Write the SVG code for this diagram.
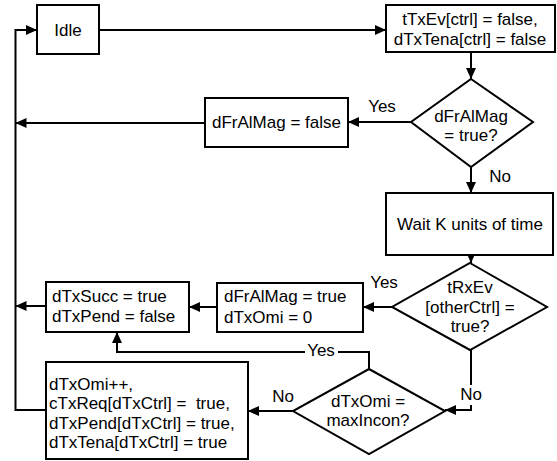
<svg xmlns="http://www.w3.org/2000/svg" width="557" height="461" viewBox="0 0 557 461">
<defs>
<marker id="ah" viewBox="0 0 11 10" refX="11" refY="5" markerWidth="11" markerHeight="10" markerUnits="userSpaceOnUse" orient="auto">
<path d="M0,0 L11,5 L0,10 Z" fill="#000"/>
</marker>
<style>
.box{fill:#fff;stroke:#000;stroke-width:2}
.t{font-family:"Liberation Sans",Arial,sans-serif;font-size:17px;fill:#000;white-space:pre}
.c{text-anchor:middle}
.ln{fill:none;stroke:#000;stroke-width:2}
.arr{marker-end:url(#ah)}
.lb{fill:#fff}
</style>
</defs>
<rect width="557" height="461" fill="#fff"/>
<g id="connectors">
<path class="ln arr" d="M99,30 H386"/>
<path class="ln arr" d="M471,52 V79"/>
<path class="ln arr" d="M411,122 H348"/>
<path class="ln arr" d="M205,123 H15.5"/>
<path class="ln arr" d="M471,167 V193"/>
<path class="ln arr" d="M471,255 V263"/>
<path class="ln arr" d="M392,307 H363"/>
<path class="ln arr" d="M217,307 H189"/>
<path class="ln arr" d="M46,306 H15.5"/>
<path class="ln arr" d="M471,350 V410 H445"/>
<path class="ln arr" d="M369,369 V352 H117 V332"/>
<path class="ln arr" d="M293,411 H248"/>
<path class="ln arr" d="M46,410 H15.5 V30 H37"/>
<rect class="lb" x="459" y="385" width="24" height="20"/>
<rect class="lb" x="305" y="343" width="33" height="16"/>
<text class="t" x="382" y="112" text-anchor="middle">Yes</text>
<text class="t" x="500" y="182" text-anchor="middle">No</text>
<text class="t" x="384" y="288" text-anchor="middle">Yes</text>
<text class="t" x="471" y="400" text-anchor="middle">No</text>
<text class="t" x="321" y="356" text-anchor="middle">Yes</text>
<text class="t" x="283" y="402" text-anchor="middle">No</text>
</g>
<g id="idle">
<rect class="box" x="37" y="5" width="62" height="49"/>
<text class="t c" x="68" y="36">Idle</text>
</g>
<g id="init">
<rect class="box" x="386" y="5" width="169" height="47"/>
<text class="t c" x="470" y="25">tTxEv[ctrl] = false,</text>
<text class="t c" x="470" y="45">dTxTena[ctrl] = false</text>
</g>
<g id="dec1">
<polygon class="box" points="471,79 533,122 471,167 411,122"/>
<text class="t c" x="471" y="122">dFrAlMag</text>
<text class="t c" x="471" y="141">= true?</text>
</g>
<g id="setfalse">
<rect class="box" x="205" y="98" width="143" height="49"/>
<text class="t c" x="276.5" y="128">dFrAlMag = false</text>
</g>
<g id="wait">
<rect class="box" x="386" y="193" width="167" height="62"/>
<text class="t c" x="470" y="230">Wait K units of time</text>
</g>
<g id="dec2">
<polygon class="box" points="470,263 547,307 470,350 392,307"/>
<text class="t c" x="470" y="293">tRxEv</text>
<text class="t c" x="470" y="313">[otherCtrl] =</text>
<text class="t c" x="470" y="332">true?</text>
</g>
<g id="settrue">
<rect class="box" x="217" y="283" width="146" height="49"/>
<text class="t" x="224" y="302">dFrAlMag = true</text>
<text class="t" x="224" y="323">dTxOmi = 0</text>
</g>
<g id="succ">
<rect class="box" x="46" y="282" width="143" height="50"/>
<text class="t" x="52" y="302">dTxSucc = true</text>
<text class="t" x="52" y="322">dTxPend = false</text>
</g>
<g id="dec3">
<polygon class="box" points="369,369 445,411 369,454 293,411"/>
<text class="t c" x="368" y="407">dTxOmi =</text>
<text class="t c" x="368" y="426">maxIncon?</text>
</g>
<g id="retry">
<rect class="box" x="46" y="362" width="202" height="97"/>
<text class="t" x="49" y="390">dTxOmi++,</text>
<text class="t" x="49" y="409" xml:space="preserve">cTxReq[dTxCtrl] =  true,</text>
<text class="t" x="49" y="429">dTxPend[dTxCtrl] = true,</text>
<text class="t" x="49" y="448">dTxTena[dTxCtrl] = true</text>
</g>
</svg>
